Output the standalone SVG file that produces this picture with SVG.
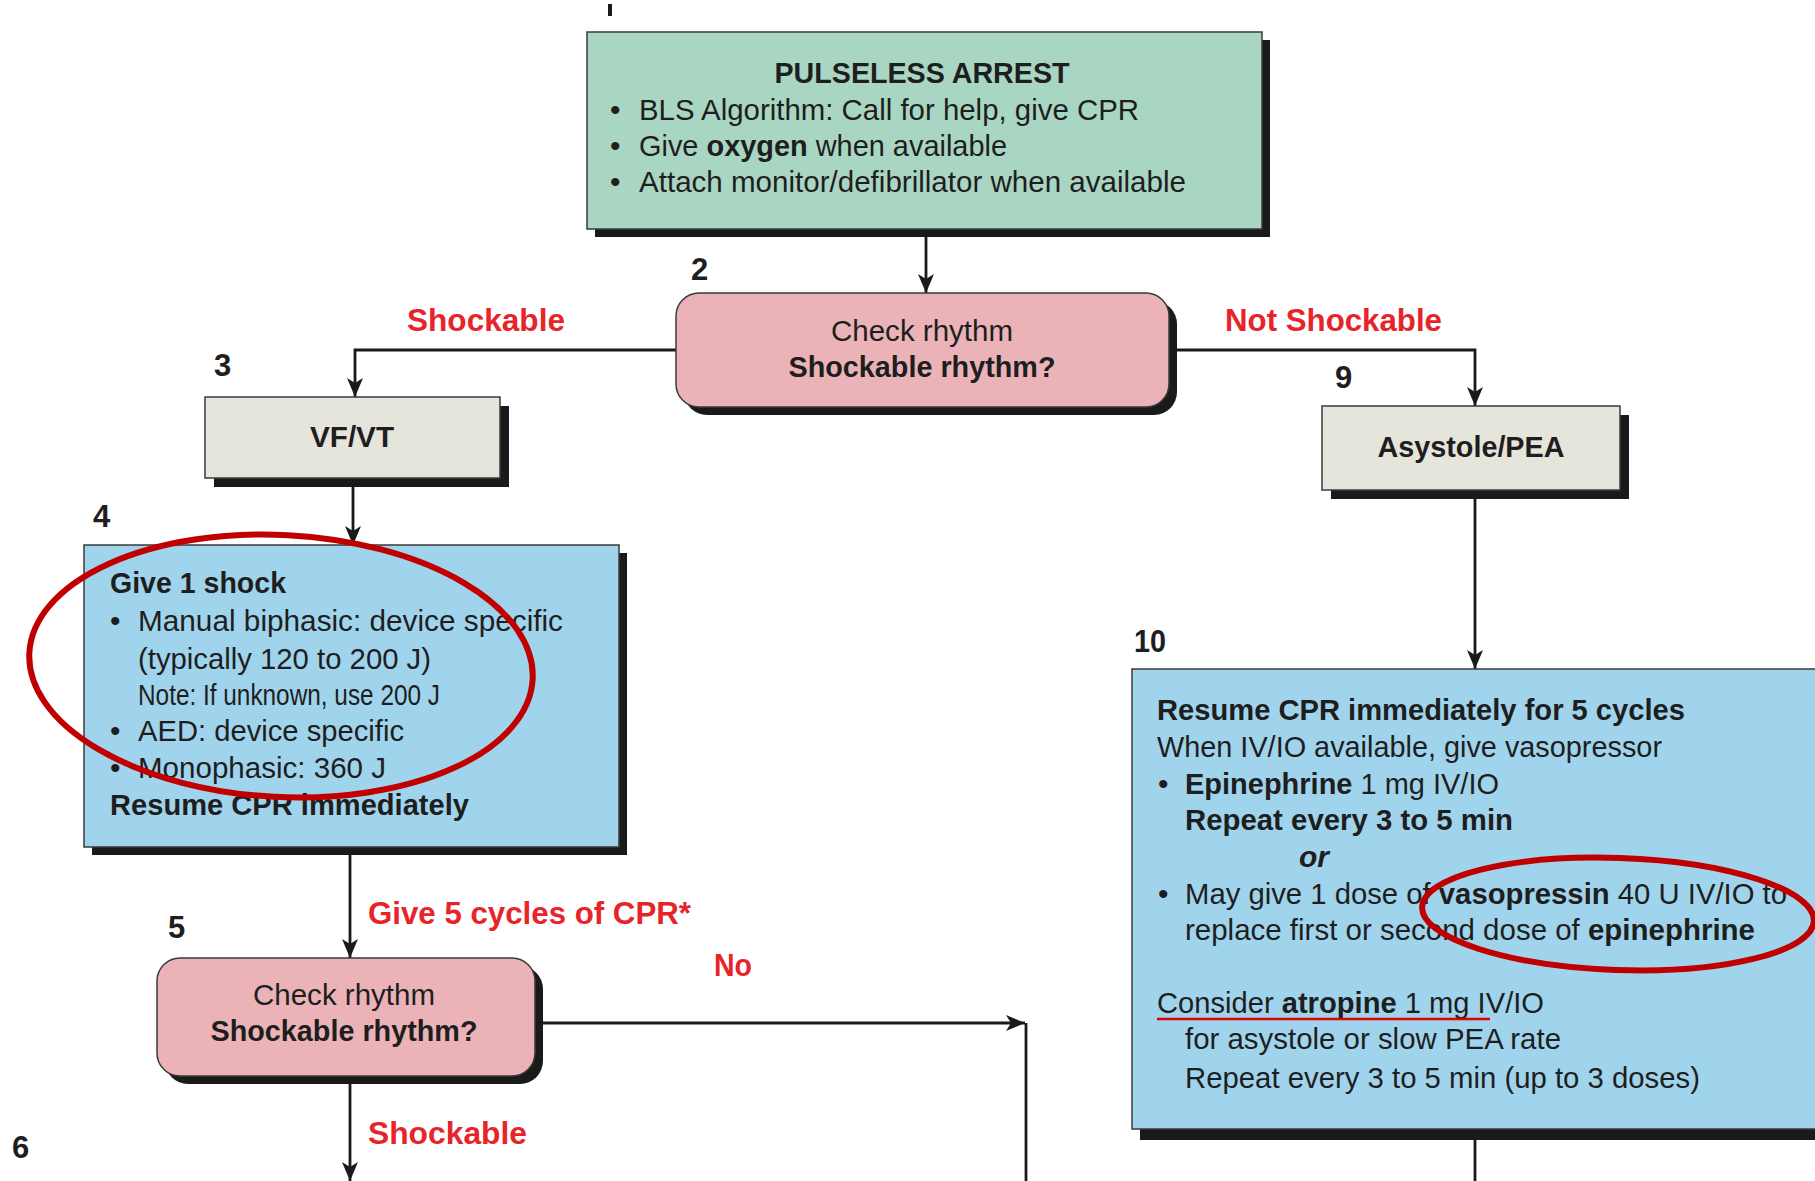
<svg xmlns="http://www.w3.org/2000/svg" width="1815" height="1181" viewBox="0 0 1815 1181">
<defs>
<marker id="arr" markerUnits="userSpaceOnUse" markerWidth="20" markerHeight="16" refX="19" refY="8" orient="auto">
<path d="M0,0 L19,8 L0,16 L5,8 Z" fill="#1a1a1a"/>
</marker>
<style>
.t{font-family:"Liberation Sans",Arial,sans-serif;font-size:30px;fill:#1e1e1e}
.b{font-weight:bold}
.lbl{font-family:"Liberation Sans",Arial,sans-serif;font-size:31px;font-weight:bold;fill:#e8242b}
.num{font-family:"Liberation Sans",Arial,sans-serif;font-size:31px;font-weight:bold;fill:#1e1e1e}
.sh{fill:#1a1a1a}
.edge{stroke:#1a1a1a;stroke-width:2.8;fill:none}
.bx{stroke:#3a3a3a;stroke-width:1.5}
.green{fill:#a9d6c3}
.pink{fill:#ebb3b8}
.gray{fill:#e6e5dc}
.blue{fill:#a0d4ec}
.ann{fill:none;stroke:#c00000;stroke-width:6}
</style>
</defs>
<rect width="1815" height="1181" fill="#ffffff"/>

<g id="connectors">
<line x1="610" y1="4" x2="610" y2="16" stroke="#1a1a1a" stroke-width="4"/>
<line class="edge" x1="926" y1="237" x2="926" y2="293" marker-end="url(#arr)"/>
<polyline class="edge" points="676,350 355,350 355,397" marker-end="url(#arr)"/>
<line class="edge" x1="353" y1="487" x2="353" y2="545" marker-end="url(#arr)"/>
<line class="edge" x1="350" y1="855" x2="350" y2="958" marker-end="url(#arr)"/>
<line class="edge" x1="535" y1="1023" x2="1025" y2="1023" marker-end="url(#arr)"/>
<line class="edge" x1="1026" y1="1023" x2="1026" y2="1181"/>
<line class="edge" x1="350" y1="1084" x2="350" y2="1181" marker-end="url(#arr)"/>
<polyline class="edge" points="1169,350 1475,350 1475,406" marker-end="url(#arr)"/>
<line class="edge" x1="1475" y1="499" x2="1475" y2="669" marker-end="url(#arr)"/>
<line class="edge" x1="1475" y1="1140" x2="1475" y2="1181"/>
</g>

<g id="labels">
<text class="lbl" x="407" y="331" textLength="158" lengthAdjust="spacingAndGlyphs">Shockable</text>
<text class="lbl" x="1225" y="331" textLength="217" lengthAdjust="spacingAndGlyphs">Not Shockable</text>
<text class="lbl" x="368" y="924" textLength="323" lengthAdjust="spacingAndGlyphs">Give 5 cycles of CPR*</text>
<text class="lbl" x="714" y="976" textLength="38" lengthAdjust="spacingAndGlyphs">No</text>
<text class="lbl" x="368" y="1144" textLength="159" lengthAdjust="spacingAndGlyphs">Shockable</text>
<text class="num" x="691" y="280">2</text>
<text class="num" x="214" y="376">3</text>
<text class="num" x="93" y="527">4</text>
<text class="num" x="168" y="938">5</text>
<text class="num" x="12" y="1158">6</text>
<text class="num" x="1335" y="388">9</text>
<text class="num" x="1134" y="652" textLength="32" lengthAdjust="spacingAndGlyphs">10</text>
</g>

<g id="node1">
<rect class="sh" x="595" y="40" width="675" height="197"/>
<rect class="bx green" x="587" y="32" width="675" height="197"/>
<text class="t b" x="922" y="83" text-anchor="middle" font-size="33" textLength="295" lengthAdjust="spacingAndGlyphs">PULSELESS ARREST</text>
<text class="t" x="610" y="120">•</text>
<text class="t" x="639" y="120" textLength="500" lengthAdjust="spacingAndGlyphs">BLS Algorithm: Call for help, give CPR</text>
<text class="t" x="610" y="156">•</text>
<text class="t" x="639" y="156" textLength="368" lengthAdjust="spacingAndGlyphs">Give <tspan class="b">oxygen</tspan> when available</text>
<text class="t" x="610" y="192">•</text>
<text class="t" x="639" y="192" textLength="547" lengthAdjust="spacingAndGlyphs">Attach monitor/defibrillator when available</text>
</g>

<g id="node2">
<rect class="sh" x="684" y="301" width="493" height="114" rx="23"/>
<rect class="bx pink" x="676" y="293" width="493" height="114" rx="23"/>
<text class="t" x="922" y="341" text-anchor="middle" textLength="182" lengthAdjust="spacingAndGlyphs">Check rhythm</text>
<text class="t b" x="922" y="377" text-anchor="middle" textLength="267" lengthAdjust="spacingAndGlyphs">Shockable rhythm?</text>
</g>

<g id="node3">
<rect class="sh" x="214" y="406" width="295" height="81"/>
<rect class="bx gray" x="205" y="397" width="295" height="81"/>
<text class="t b" x="352" y="447" text-anchor="middle" textLength="84" lengthAdjust="spacingAndGlyphs">VF/VT</text>
</g>

<g id="node4">
<rect class="sh" x="92" y="553" width="535" height="302"/>
<rect class="bx blue" x="84" y="545" width="535" height="302"/>
<text class="t b" x="110" y="593" textLength="176" lengthAdjust="spacingAndGlyphs">Give 1 shock</text>
<text class="t" x="110" y="631">•</text>
<text class="t" x="138" y="631" textLength="425" lengthAdjust="spacingAndGlyphs">Manual biphasic: device specific</text>
<text class="t" x="138" y="669" textLength="293" lengthAdjust="spacingAndGlyphs">(typically 120 to 200 J)</text>
<text class="t" x="138" y="705" font-size="24" textLength="302" lengthAdjust="spacingAndGlyphs">Note: If unknown, use 200 J</text>
<text class="t" x="110" y="741">•</text>
<text class="t" x="138" y="741" textLength="266" lengthAdjust="spacingAndGlyphs">AED: device specific</text>
<text class="t" x="110" y="778">•</text>
<text class="t" x="138" y="778" textLength="248" lengthAdjust="spacingAndGlyphs">Monophasic: 360 J</text>
<text class="t b" x="110" y="815" textLength="359" lengthAdjust="spacingAndGlyphs">Resume CPR immediately</text>
</g>

<g id="node5">
<rect class="sh" x="165" y="966" width="378" height="118" rx="23"/>
<rect class="bx pink" x="157" y="958" width="378" height="118" rx="23"/>
<text class="t" x="344" y="1005" text-anchor="middle" textLength="182" lengthAdjust="spacingAndGlyphs">Check rhythm</text>
<text class="t b" x="344" y="1041" text-anchor="middle" textLength="267" lengthAdjust="spacingAndGlyphs">Shockable rhythm?</text>
</g>

<g id="node9">
<rect class="sh" x="1331" y="415" width="298" height="84"/>
<rect class="bx gray" x="1322" y="406" width="298" height="84"/>
<text class="t b" x="1471" y="457" text-anchor="middle" textLength="187" lengthAdjust="spacingAndGlyphs">Asystole/PEA</text>
</g>

<g id="node10">
<rect class="sh" x="1140" y="677" width="700" height="463"/>
<rect class="bx blue" x="1132" y="669" width="700" height="460"/>
<text class="t b" x="1157" y="720" textLength="528" lengthAdjust="spacingAndGlyphs">Resume CPR immediately for 5 cycles</text>
<text class="t" x="1157" y="757" textLength="505" lengthAdjust="spacingAndGlyphs">When IV/IO available, give vasopressor</text>
<text class="t" x="1158" y="794">•</text>
<text class="t" x="1185" y="794" textLength="314" lengthAdjust="spacingAndGlyphs"><tspan class="b">Epinephrine</tspan> 1 mg IV/IO</text>
<text class="t b" x="1185" y="830" textLength="328" lengthAdjust="spacingAndGlyphs">Repeat every 3 to 5 min</text>
<text class="t b" x="1299" y="867" font-style="italic">or</text>
<text class="t" x="1158" y="904">•</text>
<text class="t" x="1185" y="904" textLength="602" lengthAdjust="spacingAndGlyphs">May give 1 dose of <tspan class="b">vasopressin</tspan> 40 U IV/IO to</text>
<text class="t" x="1185" y="940" textLength="570" lengthAdjust="spacingAndGlyphs">replace first or second dose of <tspan class="b">epinephrine</tspan></text>
<text class="t" x="1157" y="1013" textLength="387" lengthAdjust="spacingAndGlyphs">Consider <tspan class="b">atropine</tspan> 1 mg IV/IO</text>
<text class="t" x="1185" y="1049" textLength="376" lengthAdjust="spacingAndGlyphs">for asystole or slow PEA rate</text>
<text class="t" x="1185" y="1088" textLength="515" lengthAdjust="spacingAndGlyphs">Repeat every 3 to 5 min (up to 3 doses)</text>
</g>

<g id="annotations">
<ellipse class="ann" cx="281" cy="666" rx="252" ry="131" transform="rotate(3 281 666)"/>
<ellipse class="ann" cx="1618" cy="914" rx="196" ry="56" transform="rotate(2 1618 914)"/>
<line x1="1157" y1="1019" x2="1490" y2="1019" stroke="#e00000" stroke-width="2.5"/>
</g>
</svg>
